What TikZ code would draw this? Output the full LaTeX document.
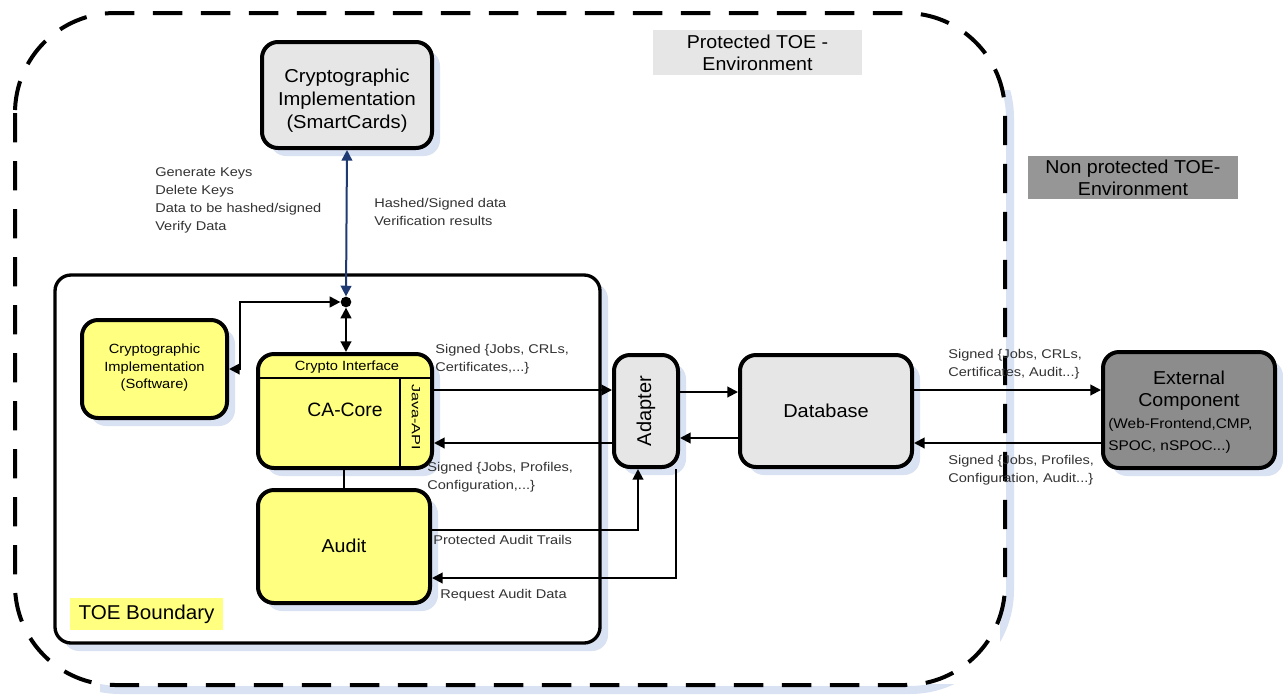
\documentclass[tikz,border=0pt]{standalone}
\usepackage{fontspec}
\usepackage{graphicx}
\setmainfont{Liberation Sans}
\usetikzlibrary{arrows.meta,shadows}
\definecolor{shadowblue}{HTML}{D9E2F3}
\definecolor{boxgray}{HTML}{E6E6E6}
\definecolor{boxyellow}{HTML}{FFFF80}
\definecolor{extgray}{HTML}{8C8C8C}
\definecolor{darkgraybox}{HTML}{969696}
\definecolor{navyline}{HTML}{1F3A73}
\definecolor{labelgray}{HTML}{333333}
\begin{document}
\begin{tikzpicture}[x=0.75pt,y=-0.75pt,
  box/.style={draw=black, line width=3pt, rounded corners=12pt, inner sep=0pt,
    drop shadow={shadow xshift=6pt, shadow yshift=-6pt, fill=shadowblue, opacity=1}},
  txt/.style={inner sep=0pt, align=center},
  lbl/.style={align=left, anchor=north west, font=\fontsize{9.5}{13.5}\selectfont,
    text=labelgray, inner sep=0pt, xscale=1.15},
  tip/.style={-{Triangle[width=8pt,length=8pt]}},
  conn/.style={line width=1.5pt, tip},
  envbox/.style={inner sep=0pt, align=center, font=\fontsize{14}{16.5}\selectfont, xscale=1.05}
]
\useasboundingbox (0,0) rectangle (1283,694);
\fill[white] (0,0) rectangle (1283,694);

% outer dashed environment boundary with shadow on right/bottom
\begin{scope}
  \clip (1000,90) rectangle (1283,694) (100,684) rectangle (1283,694);
  \draw[shadowblue, line width=6pt, rounded corners=75pt] (20,18) rectangle (1010,690);
\end{scope}
\draw[line width=3pt, dash pattern=on 22pt off 14pt, rounded corners=75pt] (15,13) rectangle (1005,685);

% TOE boundary
\draw[line width=2.5pt, rounded corners=12pt, fill=white,
  drop shadow={shadow xshift=6pt, shadow yshift=-6pt, fill=shadowblue, opacity=1}]
  (55,275) rectangle (600,643);

% coordinates for connector levels
\coordinate (h390) at (0,390);
\coordinate (h443) at (0,443);
\coordinate (h392) at (0,392);
\coordinate (h438) at (0,438);
\coordinate (h530) at (0,530);
\coordinate (h578) at (0,578);
\coordinate (v638) at (638,0);
\coordinate (v676) at (676,0);

% boxes
\node[box, fill=boxgray, minimum width=127.5pt, minimum height=79.5pt] (smart) at (347,95) {};
\node[box, fill=boxyellow, minimum width=108.75pt, minimum height=73.5pt] (soft) at (154.5,369) {};
\node[box, fill=boxyellow, minimum width=130.5pt, minimum height=85.5pt] (cacore) at (345,411) {};
\node[box, fill=boxyellow, minimum width=129pt, minimum height=84.75pt] (audit) at (344,546.5) {};
\node[box, fill=boxgray, minimum width=48pt, minimum height=84pt] (adapter) at (646,411) {};
\node[box, fill=boxgray, minimum width=129pt, minimum height=84pt] (db) at (826,411) {};
\node[box, fill=extgray, minimum width=129pt, minimum height=87pt] (ext) at (1189,410) {};
\node[fill=black, circle, inner sep=0pt, minimum size=8pt] (dot) at (346,302) {};

% box texts
\node[txt, font=\fontsize{14}{17.25}\selectfont, xscale=1.08] (smarttext) at (347,101)
  {Cryptographic\\Implementation\\(SmartCards)};
\node[txt, font=\fontsize{10}{13.1}\selectfont, xscale=1.1] (softtext) at (154.5,368)
  {Cryptographic\\Implementation\\(Software)};
\node[txt, font=\fontsize{14}{16}\selectfont, xscale=1.05] (audittext) at (344,546) {Audit};
\node[txt, font=\fontsize{14}{16}\selectfont, xscale=1.07] (dbtext) at (826,411) {Database};
\node[txt, font=\fontsize{15}{17}\selectfont, rotate=90] (adtext) at (646,411) {Adapter};
\node[txt, font=\fontsize{14}{16.5}\selectfont, xscale=1.05] (exttitle) at (1189,391) {External\\Component};
\node[txt, align=left, anchor=west, font=\fontsize{10.5}{16.5}\selectfont, xscale=1.1] (extsub) at (1108,436)
  {(Web-Frontend,CMP,\\SPOC, nSPOC...)};

% CA-Core internals
\draw[line width=1.5pt] (cacore.west |- 0,378) -- (cacore.east |- 0,378);
\draw[line width=1.5pt] (400,378) -- (cacore.south -| 400,0);
\node[txt, font=\fontsize{10}{12}\selectfont, xscale=1.1] (ciface) at (347,367) {Crypto Interface};
\node[txt, font=\fontsize{14.5}{16}\selectfont] (catext) at (345,410) {CA-Core};
\node[txt, font=\fontsize{9}{11}\selectfont, rotate=-90] (japi) at (416,417) {\scalebox{1.35}[1]{Java-API}};

% environment labels
\node[envbox, fill=boxgray, minimum width=149.3pt, minimum height=33.75pt] (prot) at (757.5,52.5)
  {Protected TOE -\\Environment};
\node[envbox, fill=darkgraybox, minimum width=150pt, minimum height=32.25pt] (nonprot) at (1133,177.5)
  {Non protected TOE-\\Environment};
\node[fill=boxyellow, inner sep=0pt, minimum width=111.4pt, minimum height=24pt, xscale=1.03,
  font=\fontsize{15}{17}\selectfont] (toe) at (146.5,614) {TOE Boundary};

% connectors
\draw[navyline, line width=1.5pt, {Triangle[width=8pt,length=8pt]}-{Triangle[width=8pt,length=8pt]}]
  (smart.south) -- (dot.north);
\draw[line width=1.5pt, {Triangle[width=8pt,length=8pt]}-{Triangle[width=8pt,length=8pt]}]
  (dot.south) -- (cacore.north -| dot);
\draw[line width=1.5pt, {Triangle[width=8pt,length=8pt]}-{Triangle[width=8pt,length=8pt]}]
  (dot.west) -| (240,369) -- (soft.east);
\draw[line width=1.5pt] (cacore.south -| 344,0) -- (audit.north -| 344,0);

\draw[conn] (cacore.east |- h390) -- (adapter.west |- h390);
\draw[conn] (adapter.west |- h443) -- (cacore.east |- h443);
\draw[conn] (adapter.east |- h392) -- (db.west |- h392);
\draw[conn] (db.west |- h438) -- (adapter.east |- h438);
\draw[conn] (db.east |- h390) -- (ext.west |- h390);
\draw[conn] (ext.west |- h443) -- (db.east |- h443);
\draw[conn] (audit.east |- h530) -| (v638 |- adapter.south);
\draw[conn] (v676 |- adapter.south) |- (audit.east |- h578);

% connector labels
\node[lbl] (l1) at (155,167) {Generate Keys\\Delete Keys\\Data to be hashed/signed\\Verify Data};
\node[lbl] (l2) at (374,198) {Hashed/Signed data\\Verification results};
\node[lbl] (l3) at (435,344) {Signed \{Jobs, CRLs,\\Certificates,...\}};
\node[lbl] (l4) at (427,462) {Signed \{Jobs, Profiles,\\Configuration,...\}};
\node[lbl] (l5) at (433,535) {Protected Audit Trails};
\node[lbl] (l6) at (440,589) {Request Audit Data};
\node[lbl] (l7) at (948,349) {Signed \{Jobs, CRLs,\\Certificates, Audit...\}};
\node[lbl] (l8) at (948,455) {Signed \{Jobs, Profiles,\\Configuration, Audit...\}};
\end{tikzpicture}
\end{document}
